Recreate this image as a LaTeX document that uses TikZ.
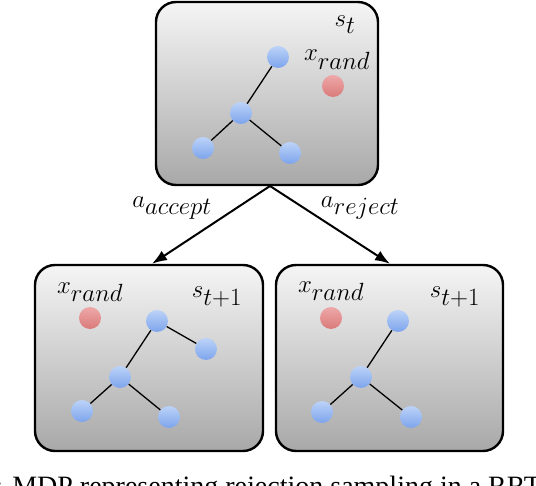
\documentclass[tikz,border=0pt]{standalone}
\usepackage{fontspec}
\newfontfamily\capfont{Liberation Serif}
\usetikzlibrary{arrows.meta}
\definecolor{blueA}{HTML}{BCD3F8}
\definecolor{blueB}{HTML}{7DA4EC}
\definecolor{redA}{HTML}{EEA8A8}
\definecolor{redB}{HTML}{DA7A7A}
\begin{document}
\begin{tikzpicture}[x=1pt,y=-1pt,
  state/.style={draw=black, line width=2.4pt, rounded corners=20pt, top color=gray!8, bottom color=gray!68, inner sep=0pt},
  vtx/.style={circle, minimum size=22pt, inner sep=0pt, top color=blueA, bottom color=blueB},
  goal/.style={circle, minimum size=22pt, inner sep=0pt, top color=redA, bottom color=redB},
  tedge/.style={line width=1.3pt},
  lbl/.style={font=\fontsize{35}{40}\selectfont, inner sep=0pt},
  act/.style={line width=2pt, -{Latex[length=15pt,width=11pt]}}]
\useasboundingbox (0,0) rectangle (536,486);
\clip (0,0) rectangle (536,486);
% states
\node[state, minimum width=222pt, minimum height=183pt] (s0) at (267,93.5) {};
\node[state, minimum width=228pt, minimum height=186pt] (s1) at (149,358) {};
\node[state, minimum width=227pt, minimum height=186pt] (s2) at (389.5,358) {};
% top state content
\node[lbl] (st) at (345,25) {$s_t$};
\node[lbl] (xr0) at (337,60) {$x_{rand}$};
\node[goal] (g0) at (333,86) {};
\node[vtx] (a1) at (278,57) {};
\node[vtx] (a2) at (241,113) {};
\node[vtx] (a3) at (203,148) {};
\node[vtx] (a4) at (290,153) {};
\draw[tedge] (a1) -- (a2);
\draw[tedge] (a2) -- (a3);
\draw[tedge] (a2) -- (a4);
% left state content
\node[lbl] (xr1) at (90,292) {$x_{rand}$};
\node[lbl] (st1) at (217,297) {$s_{t+1}$};
\node[goal] (g1) at (90,318) {};
\node[vtx] (b1) at (157,321) {};
\node[vtx] (b5) at (206,349) {};
\node[vtx] (b2) at (120,377) {};
\node[vtx] (b3) at (82,411) {};
\node[vtx] (b4) at (169,417) {};
\draw[tedge] (b1) -- (b2);
\draw[tedge] (b1) -- (b5);
\draw[tedge] (b2) -- (b3);
\draw[tedge] (b2) -- (b4);
% right state content
\node[lbl] (xr2) at (331,291) {$x_{rand}$};
\node[lbl] (st2) at (455,297) {$s_{t+1}$};
\node[goal] (g2) at (331,318) {};
\node[vtx] (c1) at (398,321) {};
\node[vtx] (c2) at (361,377) {};
\node[vtx] (c3) at (322,412) {};
\node[vtx] (c4) at (411,417) {};
\draw[tedge] (c1) -- (c2);
\draw[tedge] (c2) -- (c3);
\draw[tedge] (c2) -- (c4);
% actions
\coordinate (o) at (270,186);
\draw[act] (o) -- (s1.north -| 152,0) coordinate (e1);
\draw[act] (o) -- (s2.north -| 390,0) coordinate (e2);
\node[lbl] (aa) at (172,208) {$a_{accept}$};
\node[lbl] (ar) at (360,208) {$a_{reject}$};
% caption (cut off at the lower edge, as in the reference)
\node[font=\capfont\fontsize{28}{30}\selectfont, anchor=base west, inner sep=0pt] (cap) at (-5,495) {: MDP representing rejection sampling in a RRT};
\end{tikzpicture}
\end{document}
